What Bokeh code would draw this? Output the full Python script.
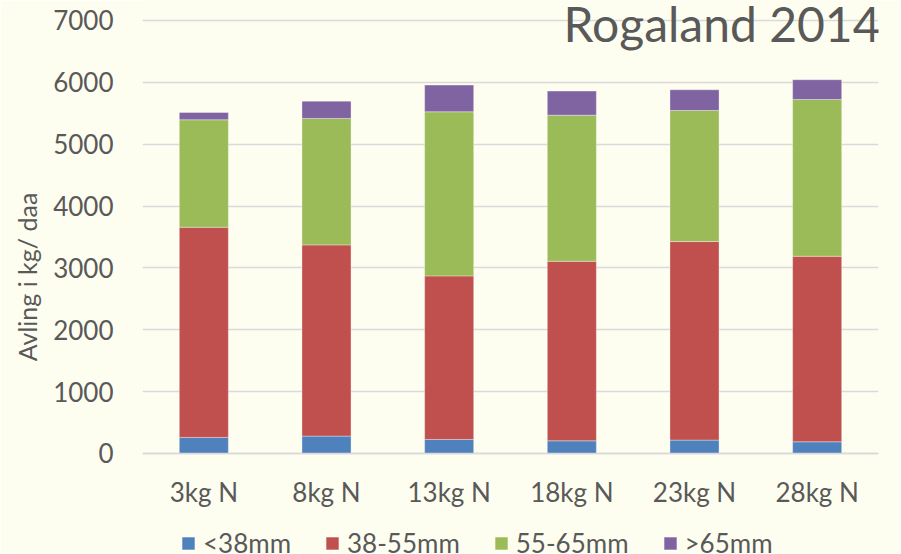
from bokeh.plotting import figure
from bokeh.models import FactorRange, Range1d, Label, Legend, LegendItem, FixedTicker
from bokeh.embed import file_html
from bokeh.resources import INLINE

categories = ["3kg N", "8kg N", "13kg N", "18kg N", "23kg N", "28kg N"]
series_names = ["<38mm", "38-55mm", "55-65mm", ">65mm"]
under_38 = [260, 281, 227, 205, 216, 189]
mm_38_55 = [3397, 3091, 2644, 2902, 3210, 2999]
mm_55_65 = [1738, 2044, 2653, 2362, 2119, 2535]
over_65 = [118, 280, 431, 389, 335, 319]
y_ticks = [0, 1000, 2000, 3000, 4000, 5000, 6000, 7000]
title_text = "Rogaland 2014"
y_label = "Avling i kg/ daa"

colors = ["#4F81BD", "#C0504D", "#9BBB59", "#8064A2"]
bg = "#FEFEF0"
txt = "#595959"
font = "Lato"

data = {"cat": categories, "s0": under_38, "s1": mm_38_55, "s2": mm_55_65, "s3": over_65}

# frame spans the full canvas height so the title and legend (drawn in the frame) are visible;
# values 0..7000 sit where the reference's gridlines are
p = figure(width=900, height=553, output_backend="svg", toolbar_location=None,
           x_range=FactorRange(*categories, range_padding=0),
           y_range=Range1d(-1617, 7323))
p.min_border_left = 142
p.min_border_right = 22
p.min_border_top = 0
p.min_border_bottom = 0
p.background_fill_color = bg
p.border_fill_color = bg
p.outline_line_color = None

rs = p.vbar_stack(["s0", "s1", "s2", "s3"], x="cat", width=0.4, source=data,
                  color=colors, line_color="white", line_alpha=0.35, line_width=1)

p.xgrid.grid_line_color = None
p.ygrid.grid_line_color = "#D9D9D9"
p.ygrid.grid_line_width = 1.5

xa = p.xaxis[0]
ya = p.yaxis[0]
xa.fixed_location = 0
ya.ticker = FixedTicker(ticks=y_ticks)
p.ygrid.ticker = FixedTicker(ticks=y_ticks)
ya.bounds = (0, 7000)
for ax in (xa, ya):
    ax.major_tick_line_color = None
    ax.minor_tick_line_color = None
    ax.major_label_text_font = font
    ax.major_label_text_font_size = "26px"
    ax.major_label_text_color = txt
ya.axis_line_color = None
xa.axis_line_color = "#D9D9D9"
xa.axis_line_width = 1.5
ya.major_label_standoff = 23
xa.major_label_standoff = 17
ya.axis_label = y_label
ya.axis_label_text_font = font
ya.axis_label_text_font_size = "25px"
ya.axis_label_text_font_style = "normal"
ya.axis_label_text_color = txt
ya.axis_label_standoff = 8

title = Label(x=6.0, y=6950, text=title_text, text_align="right", text_baseline="alphabetic",
              x_offset=2, text_font=font, text_font_size="48px", text_color=txt)
p.add_layout(title)

legend = Legend(items=[LegendItem(label=n, renderers=[r]) for n, r in zip(series_names, rs)],
                orientation="horizontal", location=(38, -6),
                background_fill_alpha=0, border_line_color=None,
                label_text_font=font, label_text_font_size="26px", label_text_color=txt,
                glyph_width=16, glyph_height=16, label_standoff=7, spacing=33,
                padding=0, margin=0)
p.add_layout(legend, "center")

open("out.html", "w").write(file_html(p, INLINE))
